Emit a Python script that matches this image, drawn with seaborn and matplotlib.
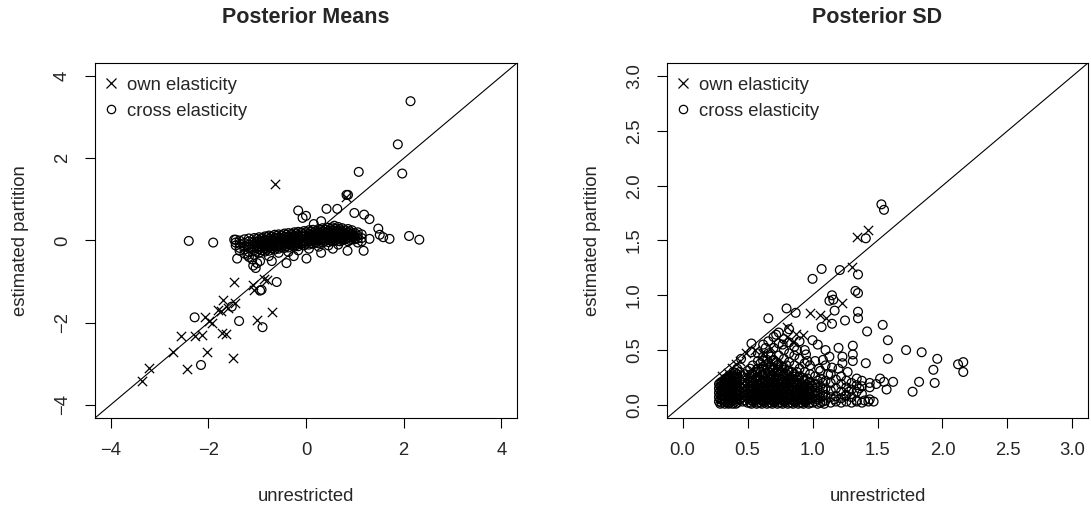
import numpy as np
import pandas as pd
import matplotlib
matplotlib.use("Agg")
import matplotlib.pyplot as plt
import seaborn as sns
from matplotlib.lines import Line2D

# ---- Posterior means: (unrestricted, estimated partition) ----
means_own = [(-0.63, 1.38), (-3.35, -3.41), (-3.21, -3.11), (-2.73, -2.71), (-2.44, -3.13),
             (-2.55, -2.32), (-2.27, -2.32), (-2.12, -2.30), (-2.03, -2.72), (-2.07, -1.85),
             (-1.98, -1.95), (-1.93, -2.00), (-1.80, -1.69), (-1.69, -1.45), (-1.73, -2.26),
             (-1.64, -2.28), (-1.49, -2.85), (-1.47, -1.01), (-1.45, -1.53), (-1.09, -1.08),
             (-1.06, -1.20), (-1.01, -1.93), (-0.70, -1.73), (-0.87, -0.94), (-0.80, -0.95),
             (0.82, 1.07), (-1.75, -1.72), (-1.60, -1.65)]

means_cross_out = [(2.14, 3.39), (1.88, 2.34), (1.97, 1.63), (1.08, 1.67), (0.83, 1.11),
                   (0.86, 1.11), (0.64, 0.77), (0.42, 0.77), (-0.16, 0.73), (0.00, 0.60),
                   (-0.07, 0.55), (0.99, 0.67), (1.19, 0.63), (1.30, 0.52), (1.48, 0.29),
                   (1.51, 0.14), (1.58, 0.08), (1.71, 0.04), (1.30, 0.04), (2.11, 0.11),
                   (2.32, 0.02), (-2.40, -0.01), (-1.90, -0.05), (-1.47, 0.02), (-1.41, -0.44),
                   (-0.60, -1.01), (-0.91, -1.20), (-0.94, -1.22), (-1.37, -1.96), (-1.52, -1.61),
                   (-0.89, -2.11), (-2.28, -1.87), (-2.15, -3.03), (-1.08, -0.61), (-1.03, -0.67),
                   (-0.94, -0.50), (-1.20, -0.35), (-0.70, -0.50), (-0.40, -0.55), (0.01, -0.44),
                   (0.31, -0.30), (0.85, -0.25), (1.18, -0.25), (0.16, 0.40), (0.31, 0.47),
                   (0.58, 0.36), (-1.10, -0.46), (-1.00, -0.55), (-0.25, -0.38), (0.55, -0.20)]

# dense band of cross elasticities: unrestricted value -> estimated values
means_cross_band = {
    -1.44: [0.02, -0.05, -0.12],
    -1.36: [0.00, -0.08, -0.18, -0.25],
    -1.26: [0.03, -0.06, -0.14, -0.22, -0.32],
    -1.17: [0.05, -0.02, -0.10, -0.18, -0.28, -0.40],
    -1.06: [0.06, -0.03, -0.09, -0.16, -0.24, -0.35],
    -1.01: [0.04, -0.04, -0.11, -0.19, -0.27],
    -0.96: [0.08, 0.00, -0.07, -0.14, -0.21, -0.30],
    -0.90: [0.06, -0.02, -0.09, -0.16, -0.24],
    -0.84: [0.10, 0.02, -0.05, -0.12, -0.19, -0.27],
    -0.80: [0.08, 0.00, -0.07, -0.14, -0.22],
    -0.76: [0.12, 0.04, -0.03, -0.10, -0.17, -0.25, -0.38],
    -0.70: [0.10, 0.02, -0.05, -0.12, -0.19],
    -0.64: [0.14, 0.06, -0.01, -0.08, -0.15, -0.22],
    -0.60: [0.11, 0.04, -0.03, -0.10, -0.17],
    -0.56: [0.15, 0.07, 0.00, -0.06, -0.13, -0.20, -0.30],
    -0.50: [0.13, 0.05, -0.02, -0.09, -0.16],
    -0.44: [0.17, 0.09, 0.02, -0.05, -0.11, -0.18],
    -0.40: [0.14, 0.06, -0.01, -0.07, -0.14],
    -0.36: [0.18, 0.10, 0.03, -0.03, -0.10, -0.17, -0.28],
    -0.30: [0.16, 0.08, 0.01, -0.06, -0.12],
    -0.24: [0.20, 0.12, 0.05, -0.02, -0.08, -0.15],
    -0.20: [0.17, 0.09, 0.02, -0.04, -0.11],
    -0.16: [0.21, 0.13, 0.06, 0.00, -0.07, -0.14, -0.24],
    -0.10: [0.19, 0.11, 0.04, -0.03, -0.09],
    -0.04: [0.23, 0.15, 0.08, 0.01, -0.05, -0.12],
    0.00: [0.20, 0.12, 0.05, -0.01, -0.08],
    0.06: [0.25, 0.17, 0.10, 0.03, -0.03, -0.10, -0.20],
    0.10: [0.22, 0.14, 0.07, 0.00, -0.06],
    0.14: [0.26, 0.18, 0.11, 0.04, -0.02, -0.08],
    0.20: [0.23, 0.15, 0.08, 0.02, -0.05],
    0.26: [0.28, 0.20, 0.13, 0.06, 0.00, -0.07, -0.15],
    0.30: [0.25, 0.17, 0.10, 0.03, -0.03],
    0.34: [0.30, 0.22, 0.14, 0.07, 0.01, -0.05],
    0.40: [0.26, 0.19, 0.12, 0.05, -0.01],
    0.46: [0.31, 0.23, 0.16, 0.09, 0.03, -0.04, -0.12],
    0.50: [0.28, 0.20, 0.13, 0.06, 0.00],
    0.54: [0.32, 0.24, 0.17, 0.10, 0.04, -0.02],
    0.60: [0.29, 0.21, 0.14, 0.08, 0.01],
    0.66: [0.33, 0.25, 0.18, 0.11, 0.05, -0.01, -0.10],
    0.70: [0.27, 0.19, 0.12, 0.05, -0.02],
    0.74: [0.30, 0.22, 0.15, 0.08, 0.02],
    0.80: [0.25, 0.17, 0.10, 0.03],
    0.86: [0.28, 0.20, 0.13, 0.06, -0.02],
    0.90: [0.22, 0.15, 0.08, 0.01],
    0.94: [0.25, 0.17, 0.10, 0.03],
    1.00: [0.18, 0.10, 0.03],
    1.06: [0.20, 0.12, 0.05, -0.05],
    1.14: [0.15, 0.06, -0.02],
}

# ---- Posterior SD ----
sd_own = [(1.34, 1.53), (1.43, 1.60), (1.30, 1.26), (1.23, 0.93), (0.98, 0.84), (1.06, 0.82),
          (1.10, 0.79), (0.80, 0.71), (0.87, 0.65), (0.93, 0.64), (0.62, 0.46), (0.68, 0.52),
          (0.49, 0.47), (0.44, 0.40), (0.38, 0.34), (0.35, 0.29), (0.30, 0.26), (0.80, 0.62),
          (0.85, 0.57), (0.56, 0.50), (0.41, 0.37), (0.33, 0.22)]

sd_cross_out = [(1.53, 1.83), (1.55, 1.78), (1.41, 1.52), (1.07, 1.24), (1.21, 1.23), (1.00, 1.15),
                (1.35, 1.19), (1.33, 1.04), (1.35, 1.02), (1.15, 1.00), (1.13, 0.95), (1.16, 0.96),
                (0.80, 0.88), (0.66, 0.79), (0.87, 0.84), (1.17, 0.86), (1.25, 0.77), (1.35, 0.85),
                (1.35, 0.79), (1.15, 0.74), (1.07, 0.71), (1.54, 0.73), (1.42, 0.67), (1.58, 0.59),
                (1.58, 0.42), (1.72, 0.50), (1.84, 0.48), (1.96, 0.42), (1.93, 0.32), (1.94, 0.20),
                (1.82, 0.21), (1.77, 0.12), (2.12, 0.37), (2.16, 0.39), (2.16, 0.30), (1.62, 0.21),
                (1.57, 0.14), (1.55, 0.21), (1.52, 0.24), (1.49, 0.19), (1.47, 0.03), (1.43, 0.03),
                (1.40, 0.04), (1.34, 0.03), (1.31, 0.46), (1.31, 0.54), (1.31, 0.40), (1.41, 0.38),
                (1.23, 0.44), (1.23, 0.38), (1.00, 0.59), (1.04, 0.55), (0.95, 0.46), (1.10, 0.50),
                (1.13, 0.44), (1.15, 0.34), (1.20, 0.33), (1.05, 0.33), (1.20, 0.52), (0.53, 0.56),
                (0.53, 0.48), (0.62, 0.40), (0.70, 0.40), (0.45, 0.42), (0.72, 0.64), (0.77, 0.55),
                (0.58, 0.47), (0.64, 0.52), (0.88, 0.50), (0.96, 0.40), (1.08, 0.41), (1.27, 0.30),
                (1.12, 0.28), (1.28, 0.12), (1.17, 0.05), (1.09, 0.01), (1.36, 0.15), (1.25, 0.08)]

sd_cross_band = {
    0.280: [0.03, 0.07, 0.11, 0.15, 0.19],
    0.290: [0.01, 0.05, 0.09, 0.13, 0.17, 0.20],
    0.300: [0.02, 0.05, 0.09, 0.13, 0.17, 0.21],
    0.315: [0.04, 0.09, 0.13, 0.17, 0.22],
    0.325: [0.01, 0.05, 0.08, 0.12, 0.16, 0.20, 0.23],
    0.330: [0.03, 0.07, 0.11, 0.15, 0.19, 0.24],
    0.345: [0.02, 0.06, 0.10, 0.14, 0.18, 0.23],
    0.355: [0.01, 0.04, 0.08, 0.12, 0.16, 0.20, 0.25],
    0.360: [0.02, 0.06, 0.10, 0.14, 0.18, 0.22, 0.27],
    0.375: [0.04, 0.08, 0.12, 0.16, 0.20, 0.25],
    0.385: [0.01, 0.05, 0.09, 0.13, 0.17, 0.21, 0.26],
    0.390: [0.04, 0.08, 0.12, 0.16, 0.20, 0.25, 0.30],
    0.405: [0.03, 0.07, 0.11, 0.15, 0.19, 0.24, 0.29],
    0.410: [0.01, 0.05, 0.09, 0.13, 0.17, 0.21, 0.26],
    0.420: [0.02, 0.06, 0.10, 0.14, 0.18, 0.23, 0.28, 0.33],
    0.440: [0.05, 0.09, 0.13, 0.17, 0.22, 0.30],
    0.460: [0.03, 0.07, 0.11, 0.15, 0.20, 0.26],
    0.480: [0.04, 0.08, 0.12, 0.17, 0.22, 0.28],
    0.500: [0.02, 0.06, 0.10, 0.14, 0.19, 0.24, 0.31],
    0.520: [0.02, 0.06, 0.10, 0.15, 0.20, 0.26, 0.33],
    0.530: [0.01, 0.04, 0.08, 0.12, 0.17, 0.22, 0.28],
    0.540: [0.04, 0.08, 0.12, 0.17, 0.22, 0.28, 0.36],
    0.560: [0.04, 0.08, 0.12, 0.17, 0.23, 0.30],
    0.570: [0.01, 0.05, 0.09, 0.14, 0.19, 0.25, 0.32],
    0.580: [0.02, 0.06, 0.10, 0.14, 0.19, 0.25, 0.33, 0.40],
    0.600: [0.02, 0.05, 0.09, 0.13, 0.18, 0.23, 0.30, 0.38],
    0.610: [0.01, 0.04, 0.08, 0.12, 0.16, 0.21, 0.27, 0.33],
    0.620: [0.03, 0.07, 0.11, 0.16, 0.21, 0.27, 0.35, 0.44, 0.55],
    0.640: [0.04, 0.08, 0.13, 0.17, 0.22, 0.29, 0.36],
    0.650: [0.01, 0.05, 0.10, 0.15, 0.20, 0.26, 0.32, 0.41],
    0.660: [0.02, 0.06, 0.10, 0.14, 0.19, 0.24, 0.30, 0.38, 0.47, 0.58],
    0.680: [0.02, 0.05, 0.09, 0.13, 0.18, 0.23, 0.29, 0.35, 0.44],
    0.690: [0.01, 0.04, 0.08, 0.12, 0.16, 0.21, 0.27, 0.32],
    0.700: [0.03, 0.07, 0.11, 0.16, 0.21, 0.26, 0.33, 0.41, 0.52, 0.62],
    0.720: [0.04, 0.08, 0.13, 0.18, 0.24, 0.30, 0.39],
    0.730: [0.01, 0.05, 0.10, 0.15, 0.20, 0.26, 0.32, 0.36],
    0.740: [0.02, 0.06, 0.10, 0.14, 0.19, 0.24, 0.30, 0.37, 0.45, 0.56, 0.66],
    0.760: [0.02, 0.05, 0.09, 0.13, 0.18, 0.23, 0.29, 0.35],
    0.770: [0.01, 0.04, 0.08, 0.12, 0.16, 0.21, 0.26, 0.32],
    0.780: [0.03, 0.07, 0.11, 0.16, 0.21, 0.27, 0.34, 0.42, 0.50, 0.60],
    0.800: [0.04, 0.08, 0.12, 0.17, 0.22, 0.28, 0.36],
    0.810: [0.01, 0.05, 0.10, 0.15, 0.20, 0.26, 0.31],
    0.820: [0.02, 0.06, 0.10, 0.14, 0.19, 0.24, 0.31, 0.39, 0.47, 0.57, 0.69],
    0.840: [0.02, 0.05, 0.09, 0.13, 0.18, 0.23, 0.30],
    0.850: [0.01, 0.04, 0.08, 0.12, 0.16, 0.21, 0.26],
    0.860: [0.03, 0.07, 0.11, 0.16, 0.22, 0.28, 0.36, 0.45, 0.53],
    0.880: [0.04, 0.08, 0.12, 0.17, 0.23, 0.30],
    0.890: [0.01, 0.05, 0.10, 0.14, 0.19, 0.25],
    0.900: [0.02, 0.06, 0.10, 0.15, 0.20, 0.26, 0.33, 0.42, 0.58],
    0.920: [0.02, 0.05, 0.09, 0.13, 0.19, 0.25],
    0.930: [0.01, 0.04, 0.08, 0.12, 0.16, 0.22],
    0.940: [0.03, 0.07, 0.12, 0.17, 0.23, 0.30, 0.38, 0.50],
    0.960: [0.04, 0.08, 0.13, 0.18, 0.24],
    0.970: [0.01, 0.05, 0.10, 0.15, 0.20],
    0.980: [0.02, 0.06, 0.10, 0.15, 0.21, 0.28, 0.36],
    1.000: [0.02, 0.06, 0.11, 0.17],
    1.020: [0.03, 0.08, 0.13, 0.19, 0.26, 0.40],
    1.040: [0.01, 0.05, 0.10, 0.16, 0.22],
    1.060: [0.02, 0.06, 0.11, 0.17, 0.24, 0.31],
    1.080: [0.03, 0.08, 0.14, 0.20],
    1.100: [0.04, 0.09, 0.15, 0.22, 0.36],
    1.140: [0.02, 0.07, 0.13, 0.20, 0.28],
    1.180: [0.03, 0.08, 0.15, 0.23],
    1.220: [0.02, 0.06, 0.12, 0.19, 0.26],
    1.260: [0.03, 0.09, 0.16, 0.22],
    1.300: [0.02, 0.07, 0.14, 0.20],
    1.340: [0.04, 0.12, 0.18, 0.24],
    1.380: [0.02, 0.10, 0.17, 0.22],
    1.440: [0.05, 0.16, 0.20],
}

means_ticks = [-4, -2, 0, 2, 4]
sd_ticks = [0.0, 0.5, 1.0, 1.5, 2.0, 2.5, 3.0]


def to_frame(own, cross, band):
    rows = [(x, y, 'cross elasticity') for x, y in cross]
    rows += [(x, y, 'cross elasticity') for x, ys in band.items() for y in ys]
    rows += [(x, y, 'own elasticity') for x, y in own]
    return pd.DataFrame(rows, columns=['unrestricted', 'estimated partition', 'type'])


df_means = to_frame(means_own, means_cross_out, means_cross_band)
df_sd = to_frame(sd_own, sd_cross_out, sd_cross_band)

sns.set_style("ticks")
plt.rcParams['font.family'] = ['Liberation Sans', 'DejaVu Sans']
FS = 13.3

fig = plt.figure(figsize=(10.91, 5.09), dpi=100)
ax1 = fig.add_axes([95 / 1091, 1 - 418 / 509, 422 / 1091, 355 / 509])
ax2 = fig.add_axes([667 / 1091, 1 - 418 / 509, 421 / 1091, 355 / 509])


def draw(ax, df, lim, ticks, labels, title):
    cross = df[df['type'] == 'cross elasticity']
    own = df[df['type'] == 'own elasticity']
    sns.scatterplot(data=cross, x='unrestricted', y='estimated partition', marker='o',
                    s=40, fc='none', ec='black', linewidth=0.9, ax=ax, legend=False)
    sns.scatterplot(data=own, x='unrestricted', y='estimated partition', marker='x',
                    s=45, color='black', linewidth=0.9, ax=ax, legend=False)
    ax.axline((0, 0), slope=1, color='black', lw=0.8)
    ax.set_xlim(lim)
    ax.set_ylim(lim)
    ax.set_xticks(ticks)
    ax.set_xticklabels(labels)
    ax.set_yticks(ticks)
    ax.set_yticklabels(labels, rotation=90, va='center')
    ax.tick_params(length=7.2, width=0.8, pad=10, labelsize=FS, color='black')
    for sp in ax.spines.values():
        sp.set_linewidth(0.8)
        sp.set_color('black')
    ax.set_xlabel('unrestricted', fontsize=FS, labelpad=21)
    ax.set_ylabel('estimated partition', fontsize=FS, labelpad=18)
    ax.set_title(title, fontsize=15.5, fontweight='bold', pad=29)
    handles = [Line2D([], [], ls='none', marker='x', color='black', ms=6.5, mew=0.9),
               Line2D([], [], ls='none', marker='o', mfc='none', mec='black', ms=6, mew=0.9)]
    ax.legend(handles, ['own elasticity', 'cross elasticity'], loc='upper left',
              bbox_to_anchor=(0, 0.985), frameon=False, fontsize=FS, handlelength=0.8,
              handletextpad=0.46, labelspacing=0.5, borderaxespad=0, borderpad=0.45)


draw(ax1, df_means, (-4.32, 4.32), means_ticks, ['\u22124', '\u22122', '0', '2', '4'],
     'Posterior Means')
draw(ax2, df_sd, (-0.12, 3.12), sd_ticks, [f'{t:.1f}' for t in sd_ticks], 'Posterior SD')

fig.savefig('out.png', dpi=100)
